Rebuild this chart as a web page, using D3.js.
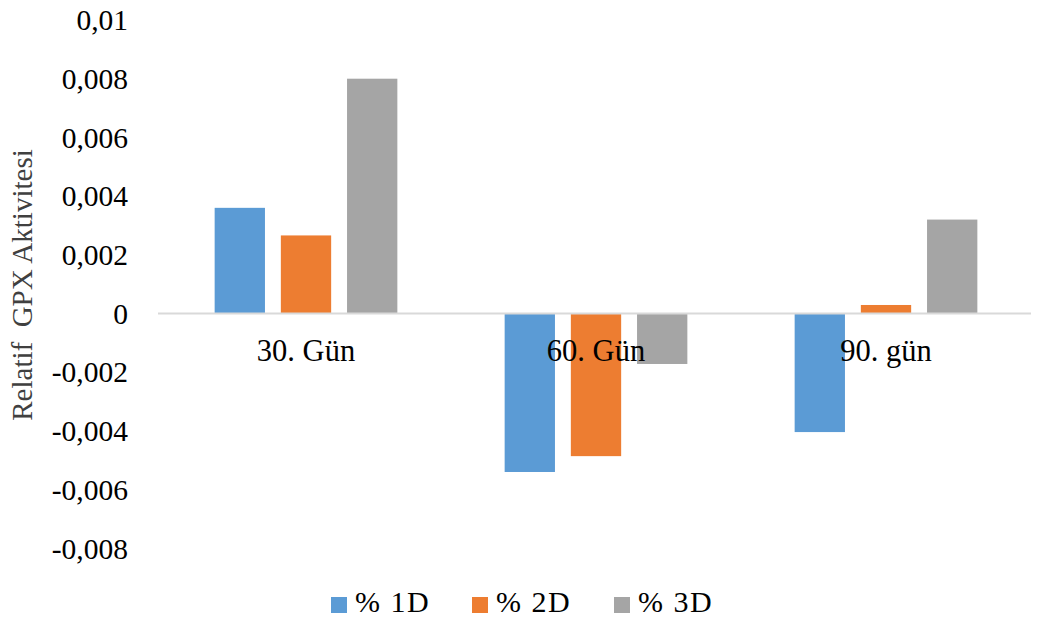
<!DOCTYPE html>
<html>
<head>
<meta charset="utf-8">
<script src="https://cdn.jsdelivr.net/npm/d3@7"></script>
<style>
  html, body { margin: 0; padding: 0; background: #fff; }
  svg { display: block; font-family: "Liberation Serif", "Times New Roman", serif; }
</style>
</head>
<body>
<svg id="chart" width="1043" height="623"></svg>
<script>
const categories = ["30. Gün", "60. Gün", "90. gün"];
const seriesNames = ["% 1D", "% 2D", "% 3D"];
const series1D = [0.0036, -0.0054, -0.00404];
const series2D = [0.00266, -0.00486, 0.00029];
const series3D = [0.0080, -0.00172, 0.0032];
const seriesColors = ["#5B9BD5", "#ED7D31", "#A5A5A5"];
const tickValues = [-0.008, -0.006, -0.004, -0.002, 0, 0.002, 0.004, 0.006, 0.008, 0.01];
const tickLabels = ["-0,008", "-0,006", "-0,004", "-0,002", "0", "0,002", "0,004", "0,006", "0,008", "0,01"];
const yTitle = "Relatif  GPX Aktivitesi";

const seriesValues = [series1D, series2D, series3D];
const rows = categories.map((c, i) => ({
  cat: c,
  vals: seriesNames.map((s, j) => ({ s, v: seriesValues[j][i], color: seriesColors[j] }))
}));

const svg = d3.select("#chart");

const y = d3.scaleLinear().domain([-0.008, 0.01]).range([548.3, 20]);
const x0 = d3.scaleBand().domain(categories).range([161, 1031]).paddingInner(0.37).paddingOuter(0.185);
const x1 = d3.scaleBand().domain(seriesNames).range([0, x0.bandwidth()]).paddingInner(0.24).paddingOuter(0);

// Y axis labels
const yAxis = d3.axisLeft(y)
  .tickValues(tickValues)
  .tickFormat((d, i) => tickLabels[i])
  .tickSize(0)
  .tickPadding(0);
const gy = svg.append("g").attr("transform", "translate(128,0)").call(yAxis);
gy.select(".domain").remove();
gy.selectAll("text")
  .attr("font-family", "Liberation Serif, Times New Roman, serif")
  .attr("font-size", 29.5)
  .attr("fill", "#000")
  .attr("dy", "0.33em");

// Bars
const groups = svg.append("g").selectAll("g").data(rows).join("g")
  .attr("transform", d => `translate(${x0(d.cat)},0)`);
groups.selectAll("rect").data(d => d.vals).join("rect")
  .attr("x", d => x1(d.s))
  .attr("width", x1.bandwidth())
  .attr("y", d => y(Math.max(0, d.v)))
  .attr("height", d => Math.abs(y(d.v) - y(0)))
  .attr("fill", d => d.color);

// Zero line
svg.append("line")
  .attr("x1", 158).attr("x2", 1031)
  .attr("y1", y(0)).attr("y2", y(0))
  .attr("stroke", "#D9D9D9").attr("stroke-width", 2);

// Category labels
svg.append("g").selectAll("text").data(categories).join("text")
  .attr("x", d => x0(d) + x0.bandwidth() / 2)
  .attr("y", 361)
  .attr("text-anchor", "middle")
  .attr("font-size", 30.5)
  .attr("fill", "#000")
  .text(d => d);

// Y title
svg.append("text")
  .attr("transform", "translate(32,285) rotate(-90)")
  .attr("text-anchor", "middle")
  .attr("font-size", 29)
  .attr("fill", "#404040")
  .style("white-space", "pre")
  .text(yTitle);

// Legend
const legendX = [331, 472, 614];
const lg = svg.append("g").selectAll("g").data(seriesNames).join("g")
  .attr("transform", (d, i) => `translate(${legendX[i]},597)`);
lg.append("rect").attr("width", 16).attr("height", 16).attr("fill", (d, i) => seriesColors[i]);
lg.append("text").attr("x", 24).attr("y", 15).attr("font-size", 30).attr("letter-spacing", 1.5).attr("fill", "#000").text(d => d);
</script>
</body>
</html>
